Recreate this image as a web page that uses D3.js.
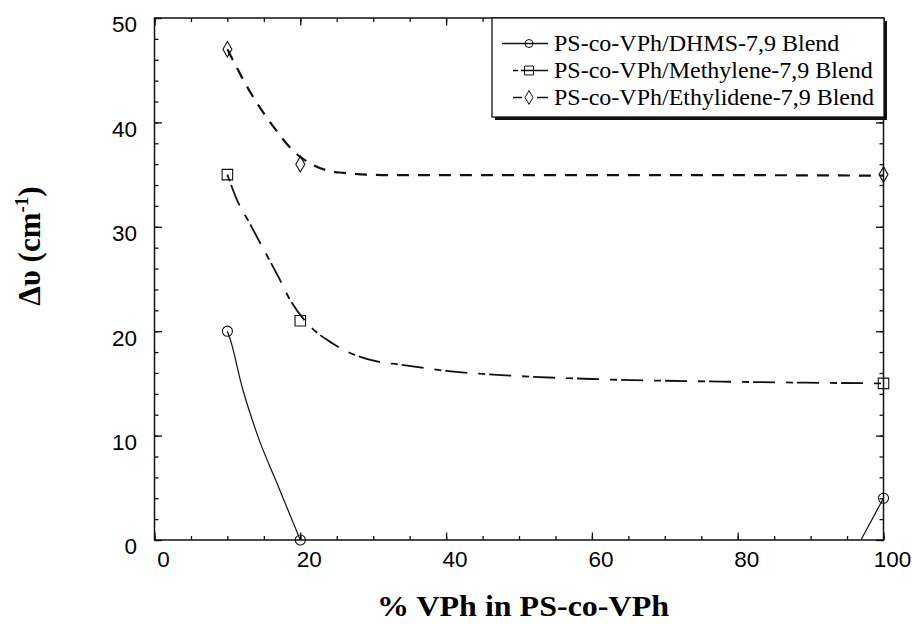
<!DOCTYPE html>
<html>
<head>
<meta charset="utf-8">
<script src="https://cdn.jsdelivr.net/npm/d3@7"></script>
<style>
  body { margin: 0; background: #fff; }
  svg { display: block; }
</style>
</head>
<body>
<script>
// measured points
var pctVPh = [10, 20, 100];
var dhms = [20, 0, 4];
var methylene = [35, 21, 15];
var ethylidene = [47, 36, 35];

// fitted curves ([x, y]; null = break where the curve leaves the plot)
var dhmsFit = [[10,20],[10.4,19.2],[12,14.7],[14.2,9.9],[17,5.1],[20,0],null,[96.9,0],[100,4]];
var methyleneFit = [[10,35],[11.3,32.6],[13,30.4],[15,27.8],[17,25.2],[18.6,23],[20.9,20.8],[24.5,18.8],
                    [30.5,17.1],[33.7,16.8],[40,16.2],[50,15.7],[61,15.4],[80,15.15],[100,15]];
var ethylideneFit = [[10,47],[10.8,45.9],[13.3,42.7],[16.3,39.6],[19,37.3],[21.8,35.9],[25.4,35.2],
                     [32.3,34.95],[50,34.95],[75,34.95],[100,34.9]];

var legendLabels = ["PS-co-VPh/DHMS-7,9 Blend", "PS-co-VPh/Methylene-7,9 Blend", "PS-co-VPh/Ethylidene-7,9 Blend"];
var xTicks = [0, 20, 40, 60, 80, 100];
var yTicks = [0, 10, 20, 30, 40, 50];

var W = 912, H = 624;
var svg = d3.select("body").append("svg").attr("width", W).attr("height", H);

var x = d3.scaleLinear().domain([0, 100]).range([154.5, 883.5]);
var y = d3.scaleLinear().domain([0, 50]).range([540, 18]);

var ink = "#111";

// clip so the DHMS fit is cut at the axis like in the original
svg.append("clipPath").attr("id", "plotclip")
   .append("rect").attr("x", x(0)).attr("y", y(50)).attr("width", x(100) - x(0)).attr("height", y(0) - y(50));

// ---- axes (ticks point inward on all four sides)
function styleAxis(g) {
    g.select(".domain").remove();
    g.selectAll(".tick line").attr("stroke", ink).attr("stroke-width", 1.3);
}

svg.append("g").attr("transform", "translate(0," + y(0) + ")")
   .call(d3.axisBottom(x).tickValues(d3.range(0, 101, 5)).tickSize(-4).tickFormat(""))
   .call(styleAxis);
var xAx = svg.append("g").attr("transform", "translate(0," + y(0) + ")")
   .call(d3.axisBottom(x).tickValues(xTicks).tickSize(-7.5).tickPadding(11))
   .call(styleAxis);

svg.append("g").attr("transform", "translate(0," + y(50) + ")")
   .call(d3.axisTop(x).tickValues(d3.range(0, 101, 5)).tickSize(-4).tickFormat(""))
   .call(styleAxis);
svg.append("g").attr("transform", "translate(0," + y(50) + ")")
   .call(d3.axisTop(x).tickValues(xTicks).tickSize(-7.5).tickFormat(""))
   .call(styleAxis);

svg.append("g").attr("transform", "translate(" + x(0) + ",0)")
   .call(d3.axisLeft(y).tickValues(d3.range(0, 51, 2)).tickSize(-4).tickFormat(""))
   .call(styleAxis);
var yAx = svg.append("g").attr("transform", "translate(" + x(0) + ",0)")
   .call(d3.axisLeft(y).tickValues(yTicks).tickSize(-7.5).tickPadding(17.5))
   .call(styleAxis);

svg.append("g").attr("transform", "translate(" + x(100) + ",0)")
   .call(d3.axisRight(y).tickValues(d3.range(0, 51, 2)).tickSize(-4).tickFormat(""))
   .call(styleAxis);
svg.append("g").attr("transform", "translate(" + x(100) + ",0)")
   .call(d3.axisRight(y).tickValues(yTicks).tickSize(-7.5).tickFormat(""))
   .call(styleAxis);

// tick labels sit a bit right / low of their ticks in the scan
xAx.selectAll("text").attr("dx", 8.5)
   .attr("font-family", "Liberation Sans, Arial, sans-serif").attr("font-size", 22.5).attr("fill", "#000");
yAx.selectAll("text").attr("dy", "0.62em")
   .attr("font-family", "Liberation Sans, Arial, sans-serif").attr("font-size", 22.5).attr("fill", "#000");

// frame
svg.append("rect")
   .attr("x", x(0)).attr("y", y(50))
   .attr("width", x(100) - x(0)).attr("height", y(0) - y(50))
   .attr("fill", "none").attr("stroke", ink).attr("stroke-width", 1.5);

// ---- fitted curves
var line = d3.line()
    .defined(function(d) { return d !== null; })
    .x(function(d) { return x(d[0]); })
    .y(function(d) { return y(d[1]); })
    .curve(d3.curveMonotoneX);

var series = [
    { name: legendLabels[0], vals: dhms, fit: dhmsFit, dash: null, width: 1.2, marker: "circle",
      key: [502, 548], keyDash: null },
    { name: legendLabels[1], vals: methylene, fit: methyleneFit, dash: "7,4,22,11", width: 1.8, marker: "square",
      key: [513, 548], keyDash: "5,3,40" },
    { name: legendLabels[2], vals: ethylidene, fit: ethylideneFit, dash: "12,9", width: 2.2, marker: "diamond",
      key: [513, 548], keyDash: "9,15,12" }
];

var plot = svg.append("g").attr("clip-path", "url(#plotclip)");
series.forEach(function(s) {
    plot.append("path")
        .attr("d", line(s.fit))
        .attr("fill", "none")
        .attr("stroke", ink)
        .attr("stroke-width", s.width)
        .attr("stroke-dasharray", s.dash);
});

// ---- markers
var symbols = {
    circle: d3.symbol().type(d3.symbolCircle).size(80),
    square: d3.symbol().type(d3.symbolSquare).size(110),
    diamond: d3.symbol().type(d3.symbolDiamond).size(70)
};
var legendSymbols = {
    circle: d3.symbol().type(d3.symbolCircle).size(50),
    square: d3.symbol().type(d3.symbolSquare).size(80),
    diamond: d3.symbol().type(d3.symbolDiamond).size(55)
};

series.forEach(function(s, k) {
    svg.selectAll("path.pt" + k)
        .data(s.vals)
        .enter().append("path")
        .attr("class", "pt" + k)
        .attr("d", symbols[s.marker])
        .attr("transform", function(d, i) { return "translate(" + x(pctVPh[i]) + "," + y(d) + ")"; })
        .attr("fill", "none")
        .attr("stroke", ink)
        .attr("stroke-width", 1.1);
});

// ---- legend
var lg = svg.append("g");
lg.append("rect").attr("x", 495).attr("y", 21).attr("width", 392).attr("height", 99).attr("fill", "#111");
lg.append("rect").attr("x", 492).attr("y", 18).attr("width", 392).attr("height", 99)
  .attr("fill", "#fff").attr("stroke", ink).attr("stroke-width", 1.3);

var rows = lg.selectAll("g.row").data(series).enter().append("g")
    .attr("class", "row")
    .attr("transform", function(d, i) { return "translate(0," + (43.5 + i * 27) + ")"; });

rows.append("line")
    .attr("x1", function(d) { return d.key[0]; }).attr("x2", function(d) { return d.key[1]; })
    .attr("stroke", ink)
    .attr("stroke-width", 1.4)
    .attr("stroke-dasharray", function(d) { return d.keyDash; });
rows.append("path")
    .attr("d", function(d) { return legendSymbols[d.marker](); })
    .attr("transform", "translate(529,0)")
    .attr("fill", function(d) { return d.marker === "diamond" ? "#fff" : "none"; })
    .attr("stroke", ink).attr("stroke-width", 1);
rows.append("text")
    .attr("x", 554).attr("y", 7.5)
    .attr("font-family", "Liberation Serif, Times New Roman, serif")
    .attr("font-size", 24)
    .attr("fill", "#000")
    .text(function(d) { return d.name; });

// ---- axis titles
svg.append("text")
   .attr("x", 523).attr("y", 616)
   .attr("text-anchor", "middle")
   .attr("font-family", "Liberation Serif, Times New Roman, serif")
   .attr("font-weight", "bold").attr("font-size", 29)
   .attr("textLength", 292).attr("lengthAdjust", "spacingAndGlyphs")
   .attr("fill", "#000")
   .text("% VPh in PS-co-VPh");

var yt = svg.append("text")
   .attr("transform", "translate(40,246) rotate(-90)")
   .attr("text-anchor", "middle")
   .attr("font-family", "Liberation Serif, Times New Roman, serif")
   .attr("font-weight", "bold").attr("font-size", 31)
   .attr("fill", "#000");
yt.append("tspan").text("\u0394\u03c5 (cm");
yt.append("tspan").attr("dy", -12).attr("font-size", 19).text("-1");
yt.append("tspan").attr("dy", 12).text(")");
</script>
</body>
</html>
